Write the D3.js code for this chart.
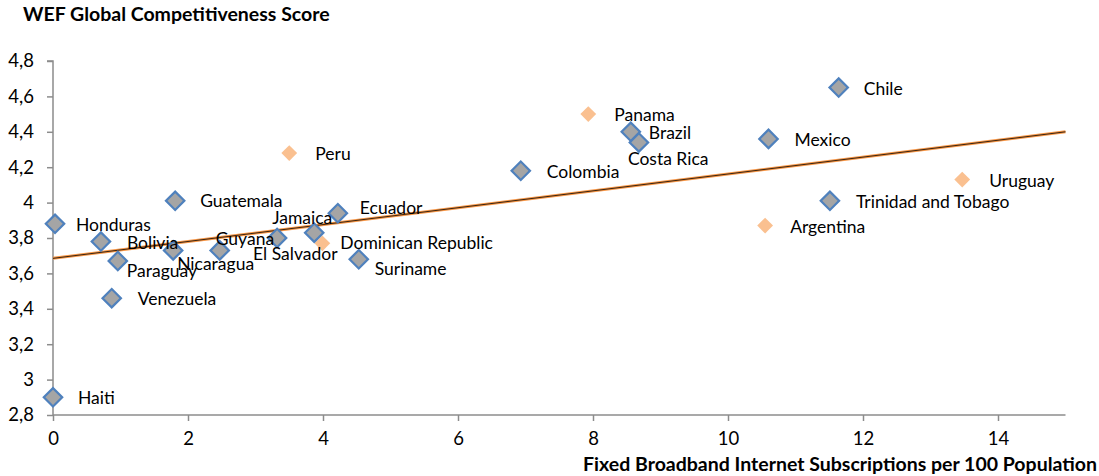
<!DOCTYPE html>
<html>
<head>
    <meta charset="utf-8">
    <title>WEF vs Broadband</title>
    <script src="https://d3js.org/d3.v7.min.js"></script>
    <style>
        body { margin: 0; background: #fff; }
        text { font-family: Lato, "Open Sans", sans-serif; fill: #000; }
    </style>
</head>
<body>
    <script>
        // data
        const countries = ["Haiti", "Honduras", "Bolivia", "Paraguay", "Venezuela", "Guatemala", "Nicaragua",
            "Guyana", "El Salvador", "Jamaica", "Ecuador", "Suriname", "Colombia", "Brazil", "Costa Rica",
            "Mexico", "Chile", "Trinidad and Tobago"];
        const broadband = [0, 0.03, 0.71, 0.96, 0.87, 1.81, 1.78, 2.47, 3.32, 3.87, 4.22, 4.53, 6.93, 8.56, 8.68,
            10.6, 11.64, 11.51];
        const wefScore = [2.90, 3.88, 3.78, 3.67, 3.46, 4.01, 3.73, 3.73, 3.80, 3.83, 3.94, 3.68, 4.18, 4.40, 4.34,
            4.36, 4.65, 4.01];

        const otherCountries = ["Peru", "Dominican Republic", "Panama", "Argentina", "Uruguay"];
        const otherBroadband = [3.50, 3.99, 7.93, 10.55, 13.47];
        const otherScore = [4.28, 3.77, 4.50, 3.87, 4.13];

        // trend line ends
        const trendX = [0, 15];
        const trendY = [3.685, 4.40];

        const xTicks = [0, 2, 4, 6, 8, 10, 12, 14];
        const yTicks = [2.8, 3, 3.2, 3.4, 3.6, 3.8, 4, 4.2, 4.4, 4.6, 4.8];

        // label placement (dx, dy from marker)
        const labelOffset = {
            "Haiti": [25, 1], "Honduras": [21, 1], "Bolivia": [26, 1], "Paraguay": [9, 10],
            "Venezuela": [26, 1], "Guatemala": [25, 0], "Nicaragua": [4, 13], "Guyana": [-4, -12],
            "El Salvador": [-24, 16], "Jamaica": [-42, -15], "Ecuador": [22, -5], "Suriname": [16, 10],
            "Colombia": [26, 1], "Brazil": [18, 1], "Costa Rica": [-11, 16], "Mexico": [26, 1],
            "Chile": [25, 1], "Trinidad and Tobago": [26, 1],
            "Peru": [26, 1], "Dominican Republic": [18, 0], "Panama": [26, 1], "Argentina": [25, 1],
            "Uruguay": [27, 1]
        };

        const width = 1099, height = 476;
        const svg = d3.select("body").append("svg")
            .attr("width", width)
            .attr("height", height);

        const x = d3.scaleLinear().domain([0, 15]).range([53, 1065.5]);
        const y = d3.scaleLinear().domain([2.8, 4.8]).range([415, 61]);

        // axes
        const yAxis = svg.append("g")
            .attr("transform", `translate(${x(0)},0)`)
            .call(d3.axisLeft(y).tickValues(yTicks).tickSize(6)
                .tickFormat(d => d3.format(".1~f")(d).replace(".", ",")));
        const xAxis = svg.append("g")
            .attr("transform", `translate(0,${y(2.8)})`)
            .call(d3.axisBottom(x).tickValues(xTicks).tickSize(6));

        [xAxis, yAxis].forEach(g => {
            g.select(".domain").attr("stroke", "#8c8c8c").attr("stroke-width", 1.5);
            g.selectAll(".tick line").attr("stroke", "#8c8c8c").attr("stroke-width", 1.5);
            g.selectAll(".tick text").attr("font-size", 18.5).attr("font-family", "Lato, sans-serif").attr("fill", "#000");
        });
        yAxis.selectAll(".tick text").attr("x", -19);
        xAxis.selectAll(".tick text").attr("y", 17);
        yAxis.select(".domain").attr("d", `M-6,${y(4.8)}H0V${y(2.8)}`);
        xAxis.select(".domain").attr("d", `M${x(0)},0H${x(15)}`);

        // trend line
        const line = d3.line().x(d => x(d[0])).y(d => y(d[1]));
        const trend = d3.zip(trendX, trendY);
        svg.append("path").attr("d", line(trend))
            .attr("stroke", "#f79646").attr("stroke-width", 3).attr("fill", "none");
        svg.append("path").attr("d", line(trend))
            .attr("stroke", "#3a2410").attr("stroke-width", 1).attr("fill", "none");

        const diamond = d3.symbol().type(d3.symbolSquare);

        // orange series
        const other = otherCountries.map((c, i) => ({ name: c, bx: otherBroadband[i], sc: otherScore[i] }));
        svg.selectAll("path.other")
            .data(other)
            .enter().append("path")
            .attr("class", "other")
            .attr("d", diamond.size(125))
            .attr("transform", d => `translate(${x(d.bx)},${y(d.sc)}) rotate(45)`)
            .attr("fill", "#fac090");

        // main series
        const main = countries.map((c, i) => ({ name: c, bx: broadband[i], sc: wefScore[i] }));
        svg.selectAll("path.main")
            .data(main)
            .enter().append("path")
            .attr("class", "main")
            .attr("d", diamond.size(170))
            .attr("transform", d => `translate(${x(d.bx)},${y(d.sc)}) rotate(45)`)
            .attr("fill", "#a5a5a5")
            .attr("stroke", "#4f81bd")
            .attr("stroke-width", 2.2);

        // labels
        svg.selectAll("text.lbl")
            .data(main.concat(other))
            .enter().append("text")
            .attr("class", "lbl")
            .attr("x", d => x(d.bx) + labelOffset[d.name][0])
            .attr("y", d => y(d.sc) + labelOffset[d.name][1])
            .attr("dy", "0.35em")
            .attr("font-size", 17.5)
            .text(d => d.name);

        // titles
        svg.append("text")
            .attr("x", 23).attr("y", 21)
            .attr("font-size", 19.5).attr("font-weight", "bold")
            .text("WEF Global Competitiveness Score");
        svg.append("text")
            .attr("x", 1097).attr("y", 471)
            .attr("text-anchor", "end")
            .attr("font-size", 19.5).attr("font-weight", "bold")
            .text("Fixed Broadband Internet Subscriptions per 100 Population");
    </script>
</body>
</html>
